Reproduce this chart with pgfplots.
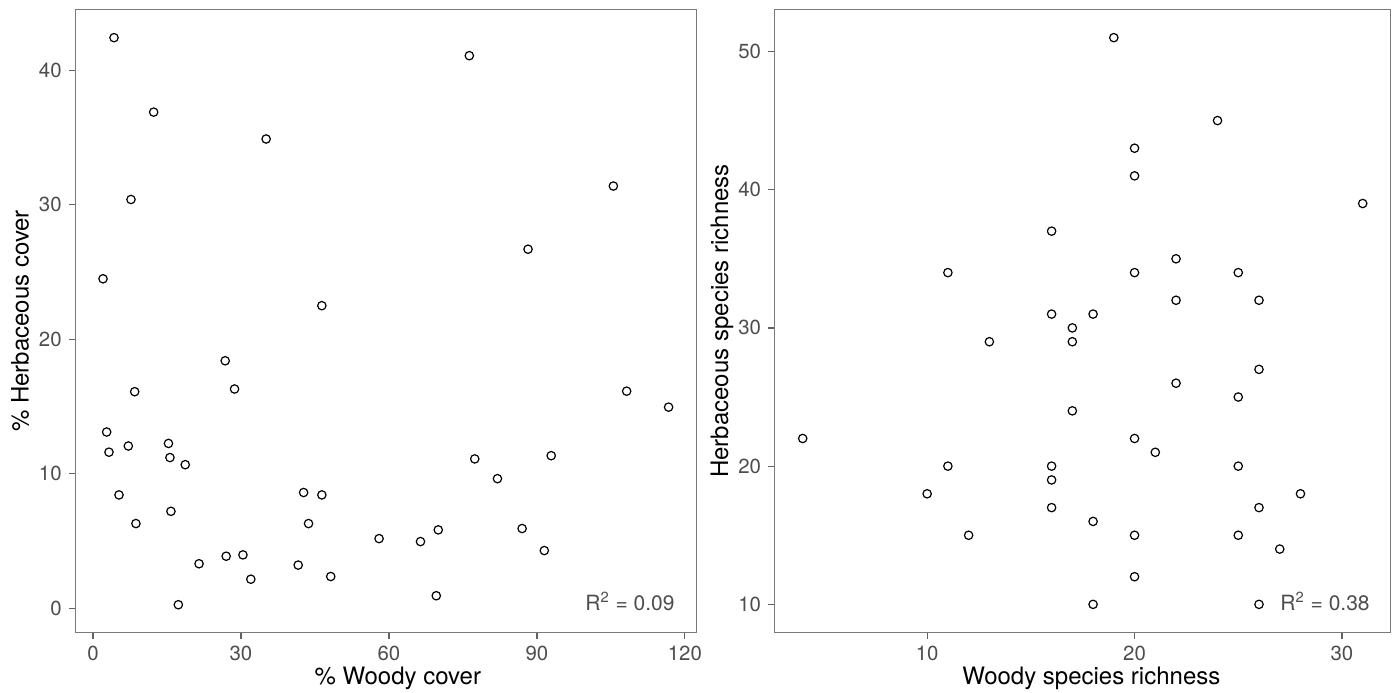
\documentclass[border=0pt]{standalone}
\usepackage{fontspec}
\setmainfont{TeX Gyre Heros}
\usepackage{pgfplots}
\pgfplotsset{compat=1.18}
\definecolor{gthirty}{HTML}{4D4D4D}
\definecolor{frame}{HTML}{7A7A7A}
\begin{document}
\begin{tikzpicture}
\useasboundingbox (0,0) rectangle (699.5bp,346.5bp);
\pgfplotsset{
 myax/.style={
  scale only axis, anchor=south west,
  height=311.7bp,
  axis line style={frame, line width=0.6bp},
  tick style={frame!80!black, line width=0.6bp},
  tick align=outside, major tick length=3.3bp,
  tick pos=left,
  ticklabel style={font=\fontsize{10.2bp}{12bp}\selectfont, text=gthirty},
  /pgf/number format/assume math mode=true,
  label style={font=\fontsize{12bp}{14bp}\selectfont, text=black},
 },
 pts/.style={only marks, mark=o, mark size=2.1bp, mark options={line width=0.6bp, draw=black, fill=none}, black},
}
\begin{axis}[myax, at={(37.65bp,30.15bp)}, width=310.7bp,
  xmin=-3.59, xmax=122.4, ymin=-1.83, ymax=44.55,
  xtick={0,30,60,90,120}, ytick={0,10,20,30,40},
  xlabel={\% Woody cover}, ylabel={\% Herbaceous cover},
  xlabel style={at={(axis description cs:0.519,-0.0831)}, anchor=base},
  ylabel style={at={(axis description cs:-0.089,0.5)}, anchor=center}]
\addplot[pts] coordinates {
(4.26,42.44) (12.3,36.9) (7.7,30.4) (2.03,24.5) (35.1,34.9) (46.4,22.5)
(76.3,41.1) (105.5,31.4) (88.2,26.7) (26.8,18.4) (28.7,16.3) (8.45,16.1)
(2.77,13.1) (3.24,11.6) (7.16,12.06) (15.3,12.25) (15.6,11.2) (18.7,10.67)
(5.27,8.42) (8.7,6.29) (15.8,7.2) (21.5,3.3) (27.0,3.86) (30.4,3.96)
(32.0,2.15) (17.3,0.25) (41.6,3.2) (42.7,8.6) (46.4,8.42) (43.7,6.29)
(48.2,2.35) (58.0,5.17) (66.4,4.95) (70.0,5.82) (69.6,0.92) (77.4,11.1)
(82.0,9.63) (87.0,5.92) (91.5,4.28) (92.9,11.34) (108.2,16.14) (116.7,14.95)
};
\node[anchor=base east, inner sep=0pt, font=\fontsize{10.5bp}{12bp}\selectfont, text=gthirty]
  at ([xshift=-10.85bp, yshift=11.3bp]rel axis cs:1,0) {R\textsuperscript{2} = 0.09};
\end{axis}
\begin{axis}[myax, at={(387.35bp,30.15bp)}, width=308bp,
  xmin=2.65, xmax=32.35, ymin=7.95, ymax=53.05,
  xtick={10,20,30}, ytick={10,20,30,40,50},
  xlabel={Woody species richness}, ylabel={Herbaceous species richness},
  xlabel style={at={(axis description cs:0.514,-0.0831)}, anchor=base},
  ylabel style={at={(axis description cs:-0.0856,0.5)}, anchor=center}]
\addplot[pts] coordinates {
(4,22) (10,18) (11,34) (11,20) (12,15) (13,29)
(16,37) (16,31) (16,20) (16,19) (16,17)
(17,30) (17,29) (17,24)
(18,31) (18,16) (18,10)
(19,51)
(20,43) (20,41) (20,34) (20,22) (20,15) (20,12)
(21,21)
(22,35) (22,32) (22,26)
(24,45)
(25,34) (25,25) (25,20) (25,15)
(26,32) (26,27) (26,17) (26,10)
(27,14) (28,18) (31,39)
};
\node[anchor=base east, inner sep=0pt, font=\fontsize{10.5bp}{12bp}\selectfont, text=gthirty]
  at ([xshift=-10.35bp, yshift=11.3bp]rel axis cs:1,0) {R\textsuperscript{2} = 0.38};
\end{axis}
\end{tikzpicture}
\end{document}
